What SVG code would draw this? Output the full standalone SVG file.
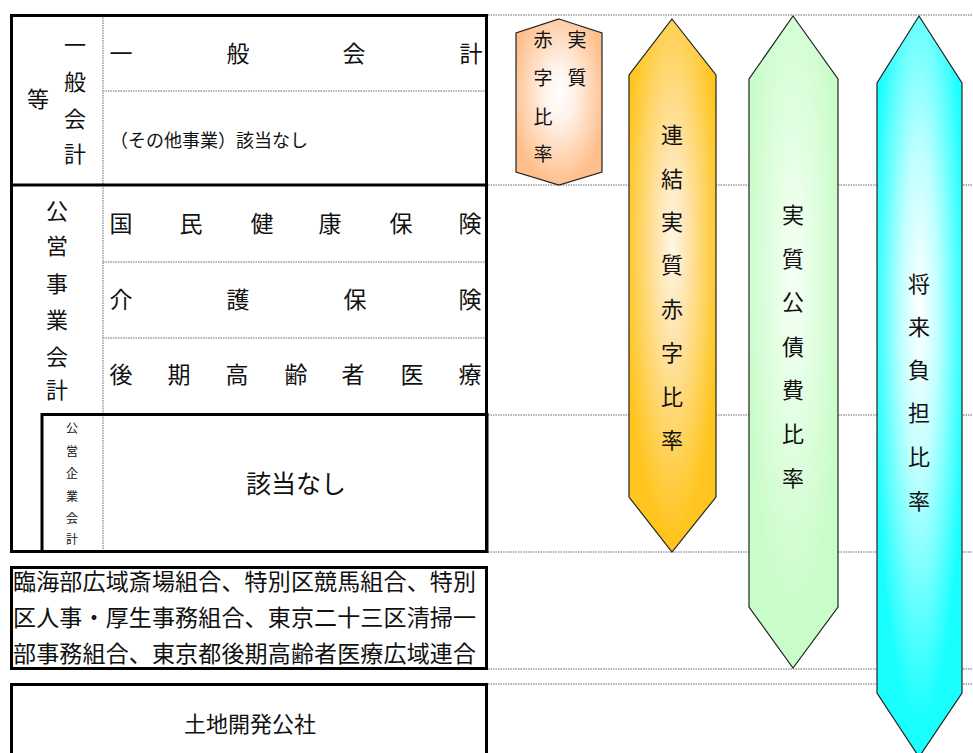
<svg xmlns="http://www.w3.org/2000/svg" width="973" height="753" viewBox="0 0 973 753">
<style>
text{font-family:"Noto Sans CJK JP","Noto Sans CJK SC",sans-serif;fill:#111;text-anchor:middle;dominant-baseline:central}
.st{text-anchor:start}
.b{fill:none;stroke:#000;stroke-width:3}
.d{stroke:#9a9a9a;stroke-width:1.5;stroke-dasharray:1.5 1}
.f23{font-size:23px}
.f22{font-size:22px}
.f12{font-size:12px}
.sh{stroke:#222;stroke-width:1.2}
</style>
<defs>
<radialGradient id="gPeach" cx="50%" cy="45%" r="55%">
<stop offset="0" stop-color="#ffffff"/>
<stop offset="0.3" stop-color="#fff3ea"/>
<stop offset="1" stop-color="#ffbf8c"/>
</radialGradient>
<radialGradient id="gOrange" cx="50%" cy="42%" r="55%">
<stop offset="0" stop-color="#fff6e6"/>
<stop offset="0.35" stop-color="#ffe3a6"/>
<stop offset="1" stop-color="#ffc51e"/>
</radialGradient>
<radialGradient id="gGreen" cx="50%" cy="40%" r="55%">
<stop offset="0" stop-color="#f6fff6"/>
<stop offset="0.4" stop-color="#e3ffe3"/>
<stop offset="1" stop-color="#c8fcc8"/>
</radialGradient>
<radialGradient id="gCyan" cx="50%" cy="40%" r="55%">
<stop offset="0" stop-color="#ffffff"/>
<stop offset="0.4" stop-color="#bfffff"/>
<stop offset="1" stop-color="#19ffff"/>
</radialGradient>
</defs>
<rect width="973" height="753" fill="#fff"/>

<g id="connectors">
<line class="d" x1="488" y1="15" x2="973" y2="15"/>
<line class="d" x1="488" y1="185" x2="973" y2="185"/>
<line class="d" x1="488" y1="415" x2="973" y2="415"/>
<line class="d" x1="488" y1="552" x2="973" y2="552"/>
<line class="d" x1="488" y1="669" x2="973" y2="669"/>
<line class="d" x1="488" y1="684" x2="973" y2="684"/>
</g>

<g id="table-general">
<line class="d" x1="103" y1="15" x2="103" y2="552"/>
<line class="d" x1="103" y1="91" x2="487" y2="91"/>
<line class="d" x1="103" y1="262" x2="487" y2="262"/>
<line class="d" x1="103" y1="338" x2="487" y2="338"/>
<rect class="b" x="11.5" y="15.5" width="475" height="536"/>
<line class="b" x1="11" y1="185" x2="487" y2="185"/>
<rect class="b" x="42" y="414.5" width="445" height="137"/>
<g class="f22">
<text x="38" y="97">等</text>
<text x="75" y="43">一</text>
<text x="75" y="80">般</text>
<text x="75" y="117">会</text>
<text x="75" y="152">計</text>
</g>
<g class="f23">
<text x="121" y="52">一</text>
<text x="238" y="52">般</text>
<text x="354" y="52">会</text>
<text x="471" y="52">計</text>
</g>
<text class="st" x="110" y="139" style="font-size:18px">（その他事業）該当なし</text>
</g>

<g id="table-public">
<g class="f22">
<text x="57" y="209">公</text>
<text x="57" y="244">営</text>
<text x="57" y="282">事</text>
<text x="57" y="318">業</text>
<text x="57" y="355">会</text>
<text x="57" y="388">計</text>
</g>
<g class="f23">
<text x="121" y="222">国</text>
<text x="191" y="222">民</text>
<text x="262" y="222">健</text>
<text x="330" y="222">康</text>
<text x="401" y="222">保</text>
<text x="470" y="222">険</text>
<text x="121" y="298">介</text>
<text x="238" y="298">護</text>
<text x="355" y="298">保</text>
<text x="470" y="298">険</text>
<text x="121" y="373">後</text>
<text x="179" y="373">期</text>
<text x="237" y="373">高</text>
<text x="296" y="373">齢</text>
<text x="353" y="373">者</text>
<text x="412" y="373">医</text>
<text x="470" y="373">療</text>
</g>
</g>

<g id="table-enterprise">
<g class="f12">
<text x="72" y="427">公</text>
<text x="72" y="450">営</text>
<text x="72" y="472">企</text>
<text x="72" y="495">業</text>
<text x="72" y="517">会</text>
<text x="72" y="538">計</text>
</g>
<text x="296" y="482" style="font-size:25px">該当なし</text>
</g>

<g id="box-unions">
<rect class="b" x="11.5" y="567.5" width="475" height="101"/>
<g class="f23">
<text class="st" x="13" y="580" textLength="463" lengthAdjust="spacing">臨海部広域斎場組合、特別区競馬組合、特別</text>
<text class="st" x="13" y="616" textLength="463" lengthAdjust="spacing">区人事・厚生事務組合、東京二十三区清掃一</text>
<text class="st" x="13" y="652" textLength="463" lengthAdjust="spacing">部事務組合、東京都後期高齢者医療広域連合</text>
</g>
</g>

<g id="box-corp">
<rect class="b" x="11.5" y="684.5" width="475" height="80"/>
<text x="250" y="722" class="f22">土地開発公社</text>
</g>

<g id="shape-real-deficit">
<polygon class="sh" fill="url(#gPeach)" points="559,19 602,33 602,172 559,185 516,172 516,33"/>
<g style="font-size:19px">
<text x="577" y="38">実</text>
<text x="577" y="76">質</text>
<text x="543" y="38">赤</text>
<text x="543" y="76">字</text>
<text x="543" y="115">比</text>
<text x="543" y="152">率</text>
</g>
</g>

<g id="shape-consolidated">
<polygon class="sh" fill="url(#gOrange)" points="672,19 716,75 716,497 672,552 629,497 629,75"/>
<g class="f22">
<text x="672" y="133">連</text>
<text x="672" y="177">結</text>
<text x="672" y="220">実</text>
<text x="672" y="263">質</text>
<text x="672" y="307">赤</text>
<text x="672" y="351">字</text>
<text x="672" y="395">比</text>
<text x="672" y="438">率</text>
</g>
</g>

<g id="shape-debt-service">
<polygon class="sh" fill="url(#gGreen)" points="793,16 838,79 838,607 793,668 749,607 749,79"/>
<g class="f22">
<text x="793" y="213">実</text>
<text x="793" y="257">質</text>
<text x="793" y="300">公</text>
<text x="793" y="345">債</text>
<text x="793" y="388">費</text>
<text x="793" y="432">比</text>
<text x="793" y="476">率</text>
</g>
</g>

<g id="shape-future-burden">
<polygon class="sh" fill="url(#gCyan)" points="919,16 962,83 962,693 919,757 877,693 877,83"/>
<g class="f22">
<text x="919" y="282">将</text>
<text x="919" y="325">来</text>
<text x="919" y="368">負</text>
<text x="919" y="411">担</text>
<text x="919" y="455">比</text>
<text x="919" y="499">率</text>
</g>
</g>
</svg>
